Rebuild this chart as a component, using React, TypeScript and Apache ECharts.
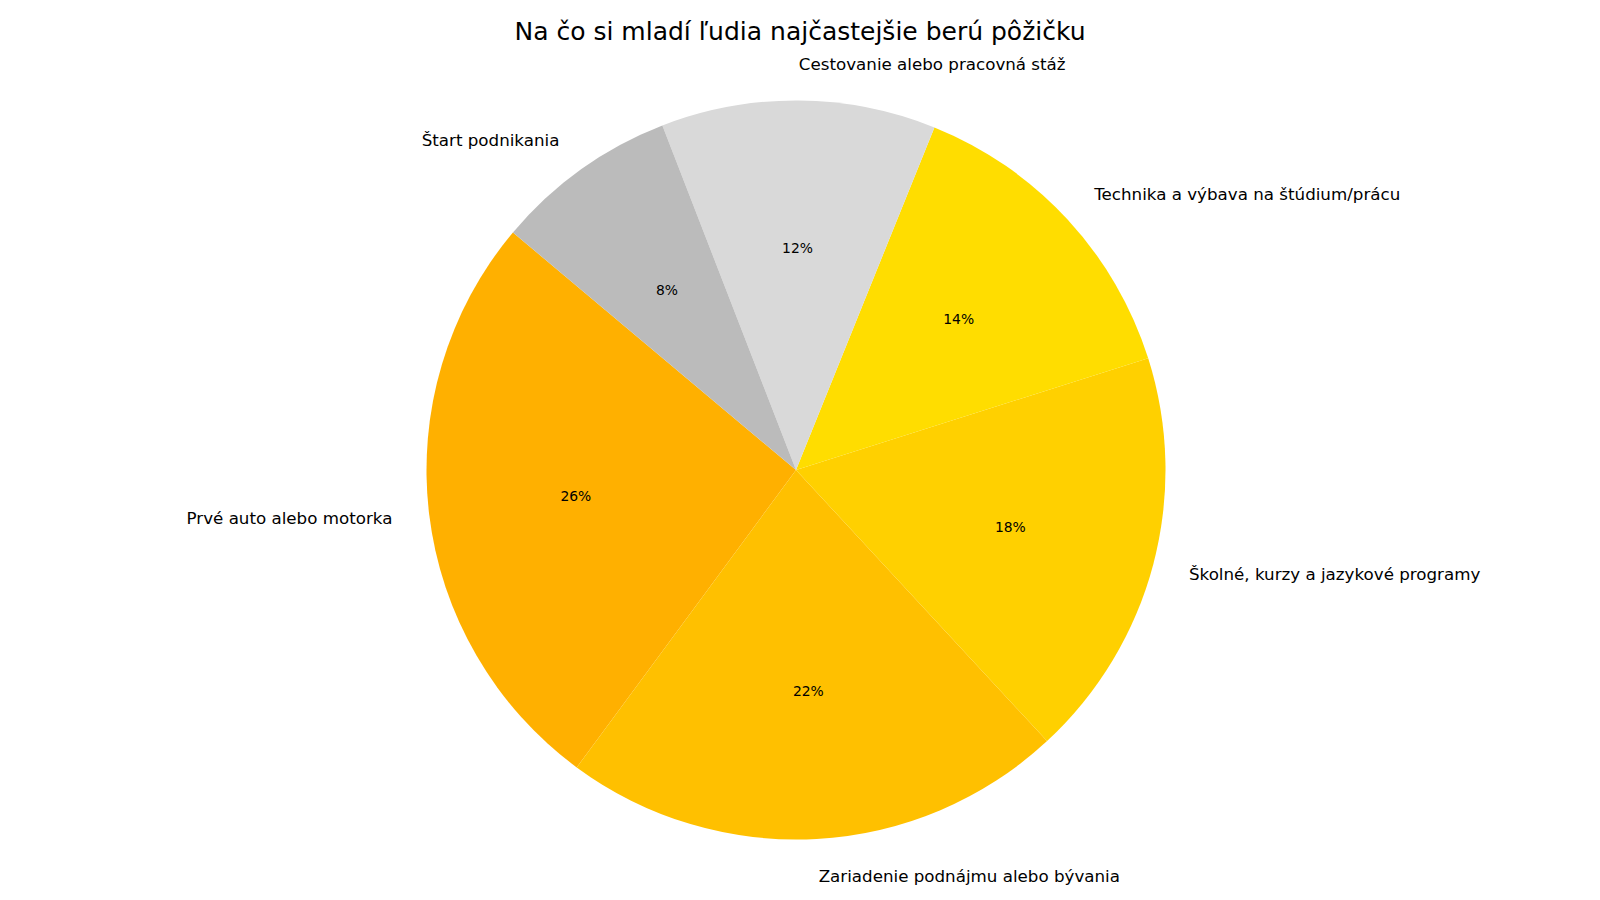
import * as echarts from 'echarts';
import { useEffect, useRef } from 'react';

const categories = [
  'Prvé auto alebo motorka',
  'Zariadenie podnájmu alebo bývania',
  'Školné, kurzy a jazykové programy',
  'Technika a výbava na štúdium/prácu',
  'Cestovanie alebo pracovná stáž',
  'Štart podnikania',
];
const shares = [26, 22, 18, 14, 12, 8];
const colors = ['#FFB000', '#FFC000', '#FFD000', '#FFDD00', '#D9D9D9', '#BBBBBB'];

const FONT = 'DejaVu Sans';
const CX = 796;
const CY = 470;
const R = 369.5;

export default function App() {
  const chartRef = useRef<HTMLDivElement>(null);

  useEffect(() => {
    if (!chartRef.current) return;
    const chart = echarts.init(chartRef.current, null, { renderer: 'svg' });

    const data = categories.map((name, i) => ({
      name,
      value: shares[i],
      itemStyle: { color: colors[i] },
    }));

    chart.setOption({
      animation: false,
      backgroundColor: '#ffffff',
      title: {
        text: 'Na čo si mladí ľudia najčastejšie berú pôžičku',
        left: 'center',
        top: 14,
        textStyle: { fontFamily: FONT, fontSize: 25, fontWeight: 'normal', color: '#000' },
      },
      series: [
        {
          // slices + outer category labels at 1.1 R
          type: 'pie',
          center: [CX, CY],
          radius: R,
          startAngle: 140,
          clockwise: false,
          avoidLabelOverlap: false,
          silent: true,
          data,
          label: {
            show: true,
            position: 'outside',
            formatter: '{b}',
            fontFamily: FONT,
            fontSize: 16.7,
            color: '#000',
            distanceToLabelLine: 0,
          },
          labelLine: { show: false, length: R * 0.1, length2: 0 },
        },
        {
          // transparent ring, only for the percentages at 0.6 R
          type: 'pie',
          center: [CX, CY],
          radius: [2 * (R * 0.6 - 3) - R, R],
          startAngle: 140,
          clockwise: false,
          avoidLabelOverlap: false,
          silent: true,
          percentPrecision: 0,
          data: data.map((d) => ({ ...d, itemStyle: { color: 'rgba(0,0,0,0)' } })),
          label: {
            show: true,
            position: 'inside',
            formatter: '{d}%',
            fontFamily: FONT,
            fontSize: 13.9,
            color: '#000',
          },
          labelLine: { show: false },
        },
      ],
    });

    return () => {
      chart.dispose();
    };
  }, []);

  return (
    <div
      ref={chartRef}
      style={{ position: 'absolute', left: 0, top: 0, width: '1600px', height: '900px' }}
    />
  );
}
